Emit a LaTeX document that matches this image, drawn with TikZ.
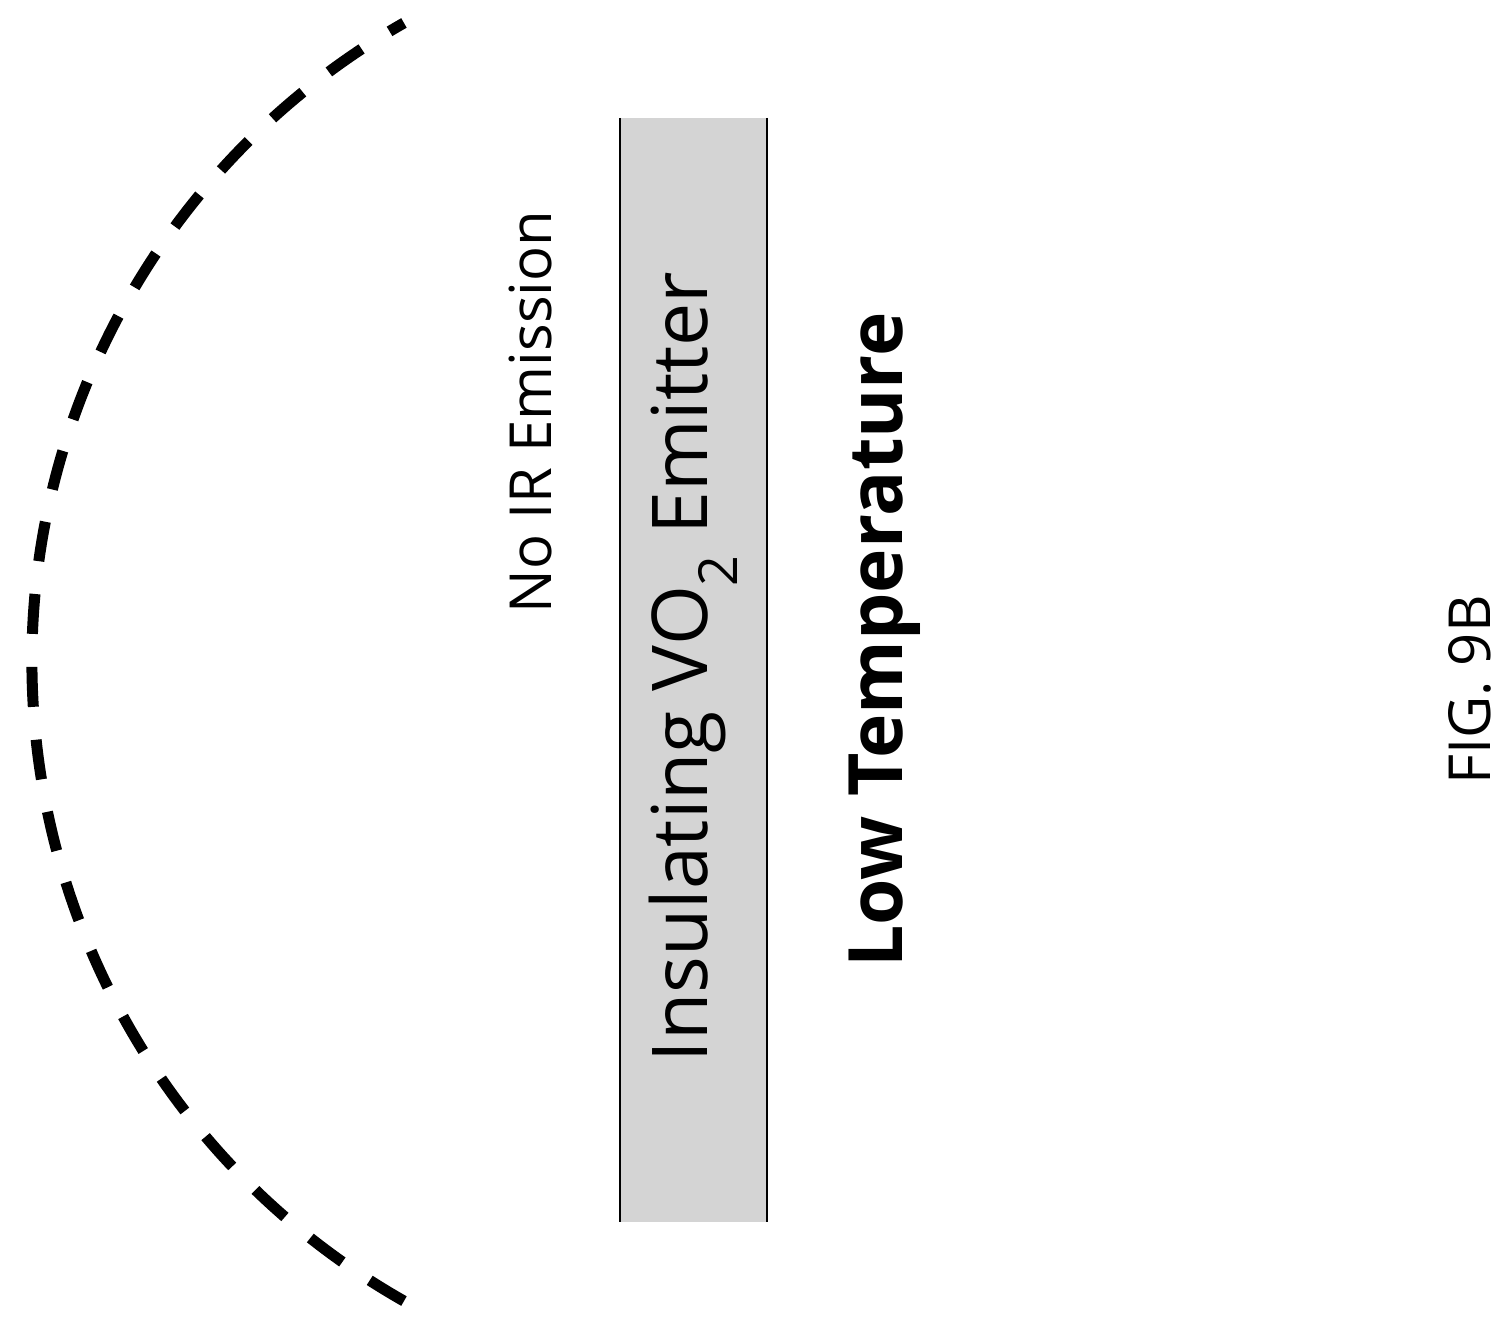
\documentclass[tikz,border=0pt]{standalone}
\usepackage{fontspec}
\setmainfont{Open Sans}
\begin{document}
\begin{tikzpicture}[x=1pt,y=-1pt,
  lbl/.style={rotate=90,inner sep=0pt,anchor=center}]
\useasboundingbox (0,0) rectangle (1507,1327);
\fill[black!17] (620,118) rectangle (767,1222);
\draw[line width=2pt] (620,118) -- (620,1222) (767,118) -- (767,1222);
\draw[line width=11pt,dash pattern=on 40pt off 33pt] (767,662) ++(119.6:735) arc (119.6:240.4:735);
\node[lbl,font=\fontsize{58}{58}\selectfont] (noir) at (530,412) {No IR Emission};
\node[lbl,font=\fontsize{77}{77}\selectfont] (ins) at (693,667) {Insulating VO\textsubscript{2} Emitter};
\node[lbl,font=\bfseries\fontsize{75}{75}\selectfont] (low) at (885,640) {Low Temperature};
\node[lbl,font=\fontsize{58}{58}\selectfont] (fig) at (1470,690) {FIG. 9B};
\end{tikzpicture}
\end{document}
